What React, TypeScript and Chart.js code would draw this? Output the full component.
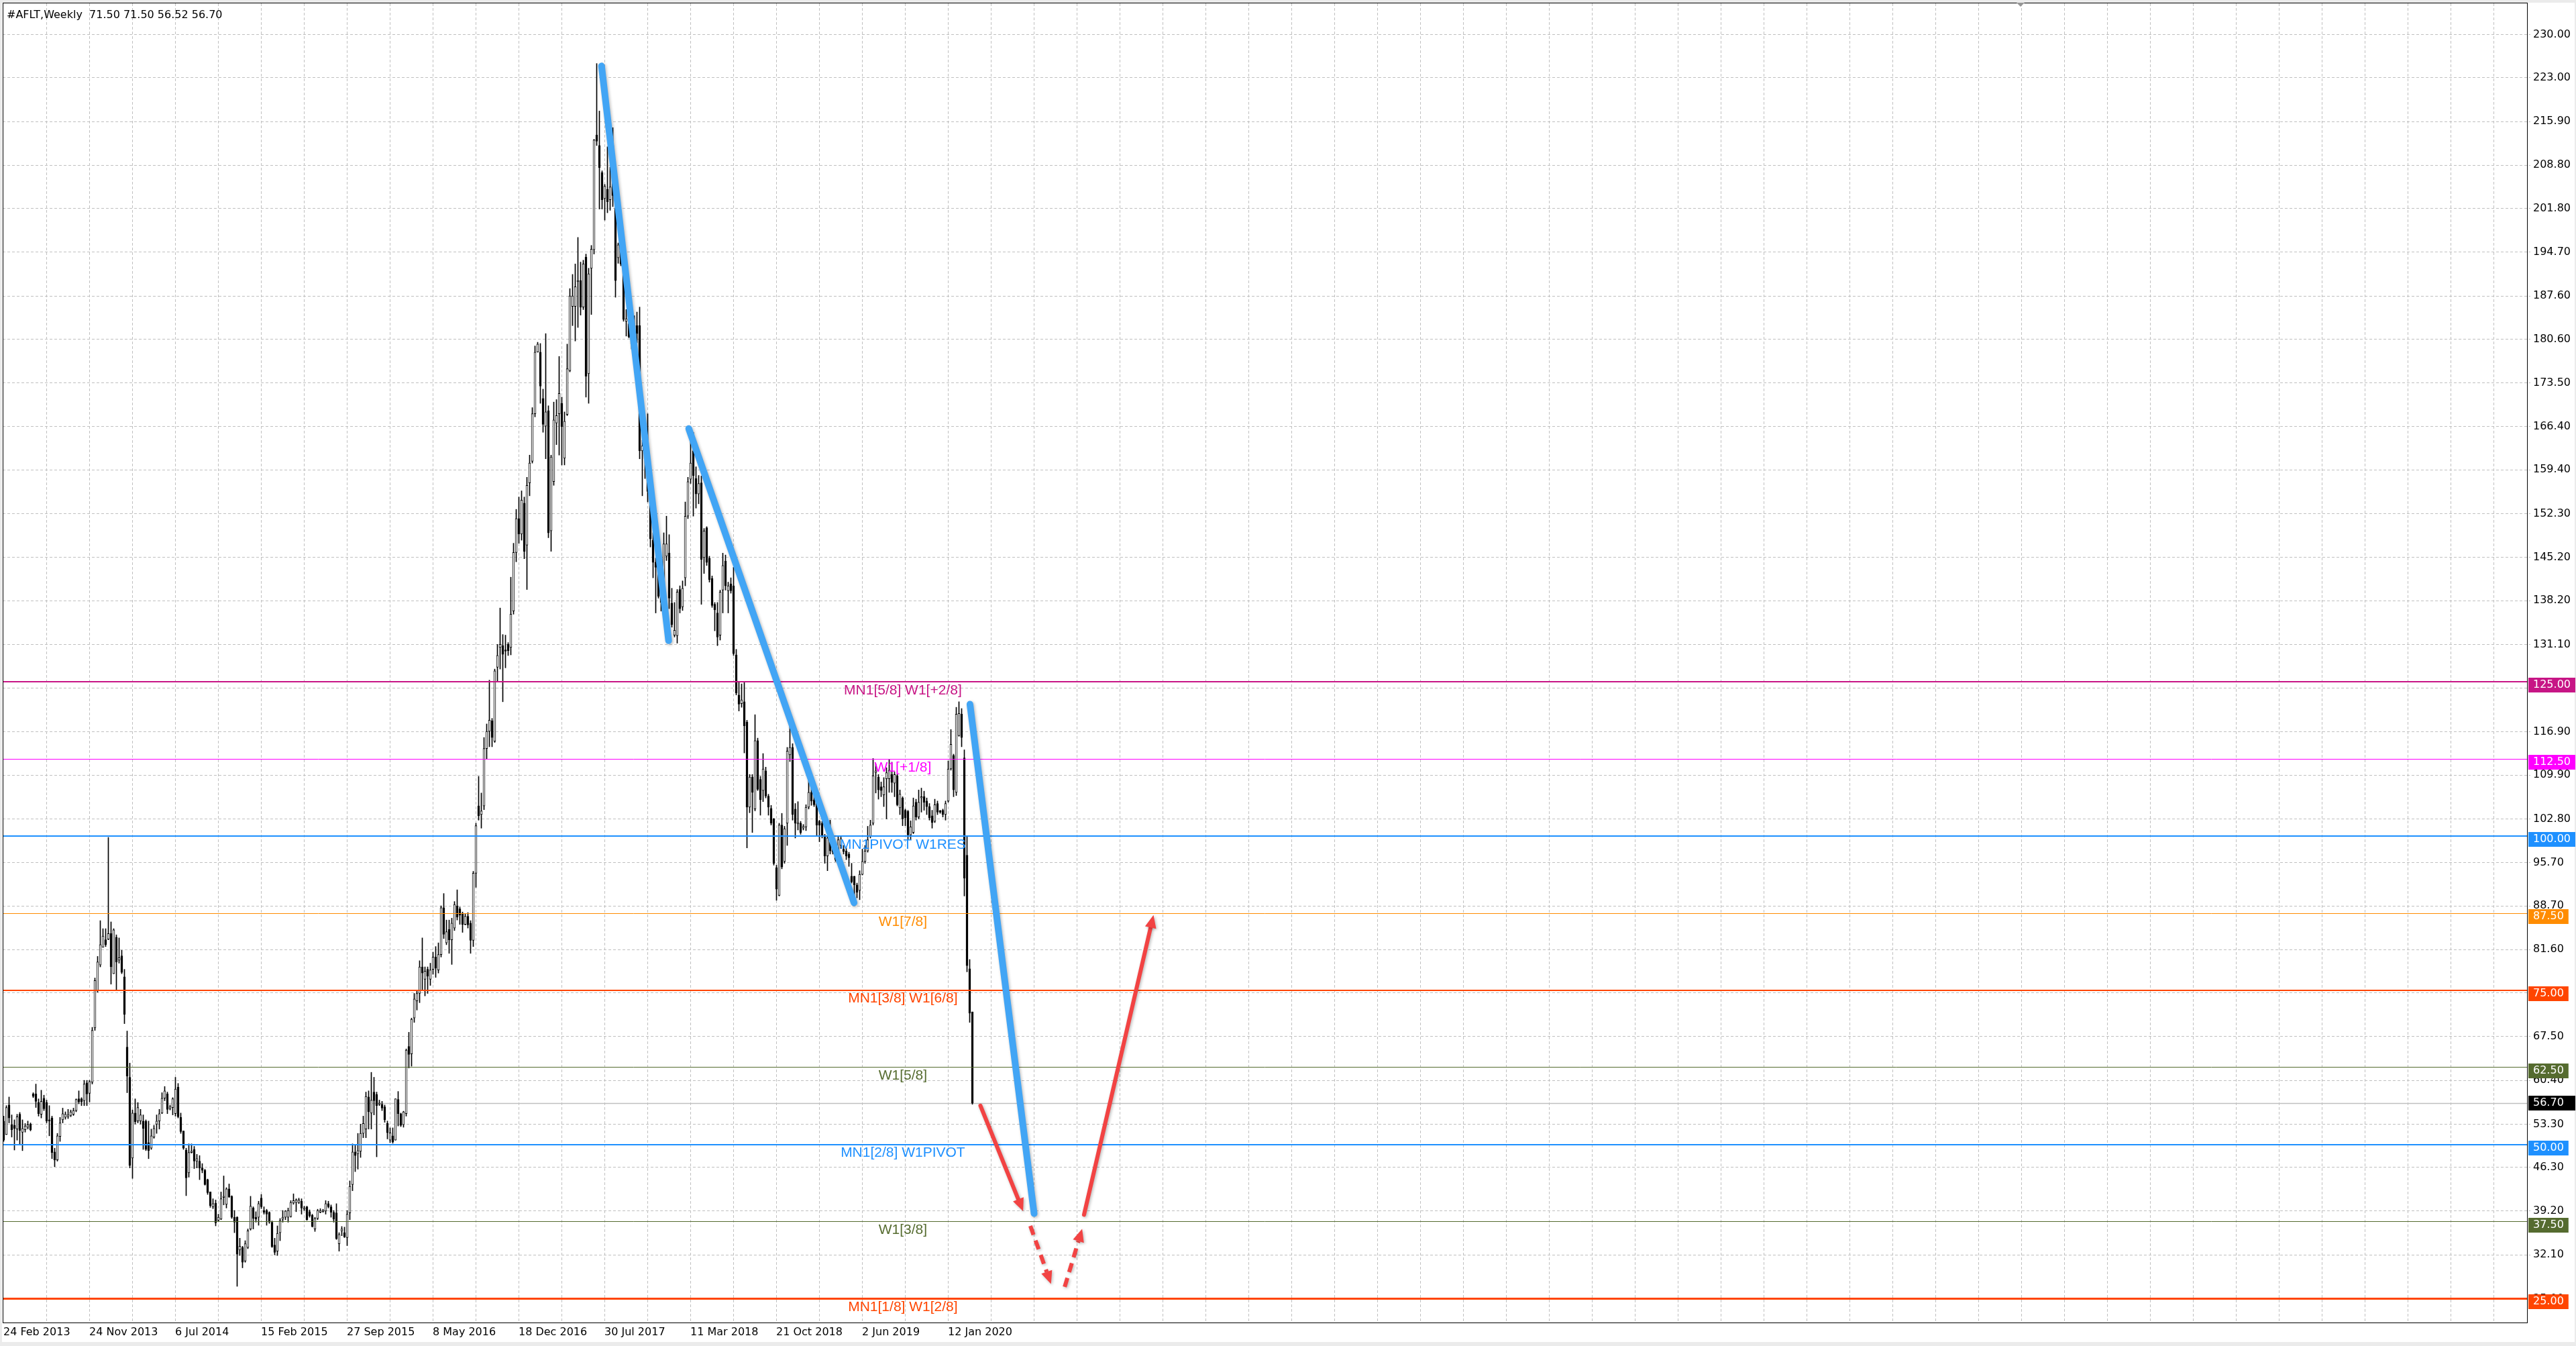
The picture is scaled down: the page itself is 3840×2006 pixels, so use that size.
import React, { useEffect, useRef } from 'react';
import { Chart, registerables } from 'chart.js';

Chart.register(...registerables);

// ---------------- DATA ----------------
const symbolName = '#AFLT';
const timeframeName = 'Weekly';

const openPrices = [
  53.8, 51.6, 56.4, 53.2, 53.1, 52.5, 54.9, 52.0, 52.4, 52.8,
  53.3, 58.2, 58.2, 56.8, 54.9, 57.5, 56.8, 54.0, 54.3, 48.8,
  47.5, 51.3, 54.0, 54.4, 54.5, 54.7, 54.9, 55.5, 57.4, 57.4,
  57.1, 60.0, 58.3, 60.1, 68.9, 74.9, 79.1, 82.0, 83.2, 83.3,
  84.2, 77.7, 83.6, 79.9, 80.6, 77.2, 65.8, 60.9, 47.8, 55.1,
  53.8, 53.8, 53.8, 53.8, 50.3, 49.4, 51.2, 53.3, 53.8, 55.1,
  57.5, 58.2, 55.8, 56.0, 55.0, 59.3, 54.4, 52.2, 49.1, 45.4,
  48.7, 49.2, 47.3, 47.3, 46.2, 45.8, 44.3, 42.3, 39.9, 40.5,
  37.7, 37.9, 41.4, 40.3, 42.8, 41.6, 38.2, 38.2, 32.9, 33.3,
  31.1, 33.3, 36.3, 39.7, 38.2, 38.2, 41.3, 39.3, 39.3, 39.0,
  37.4, 33.7, 32.7, 35.7, 37.9, 38.2, 38.2, 38.3, 40.5, 40.6,
  40.6, 40.8, 39.5, 39.9, 39.1, 38.5, 36.3, 38.0, 39.0, 39.1,
  39.2, 40.4, 39.9, 39.0, 38.9, 33.9, 36.0, 35.7, 34.9, 38.9,
  43.5, 48.8, 48.5, 48.9, 51.8, 52.5, 57.7, 55.1, 58.5, 58.1,
  56.5, 56.5, 56.1, 53.4, 50.7, 51.4, 50.7, 57.3, 55.0, 53.2,
  55.0, 65.9, 64.7, 70.5, 73.3, 74.5, 78.8, 76.8, 78.4, 76.8,
  78.4, 80.4, 78.3, 80.8, 88.4, 82.7, 84.9, 83.2, 85.1, 88.7,
  88.2, 87.4, 85.7, 87.0, 85.9, 83.1, 94.0, 104.9, 103.5, 104.9,
  114.2, 117.0, 118.7, 115.4, 127.4, 130.6, 130.9, 130.1, 131.1, 130.6,
  136.5, 146.0, 151.5, 149.0, 154.0, 147.2, 157.3, 160.8, 168.5, 178.5,
  178.5, 171.0, 166.5, 169.0, 149.5, 157.5, 167.0, 168.5, 170.2, 161.3,
  168.4, 175.5, 185.9, 185.9, 189.9, 190.1, 185.8, 193.9, 175.0, 192.1,
  195.1, 213.7, 212.0, 207.6, 203.4, 204.9, 203.2, 212.0, 201.8, 193.8,
  198.4, 192.8, 183.5, 183.1, 182.5, 182.5, 182.8, 182.8, 162.5, 164.5,
  161.2, 155.9, 148.0, 144.4, 144.2, 139.9, 138.9, 145.4, 145.9, 137.8,
  132.6, 132.5, 140.0, 137.2, 141.9, 151.9, 157.9, 162.5, 158.0, 155.5,
  157.3, 145.2, 150.0, 145.1, 141.8, 137.6, 136.2, 132.6, 139.9, 144.6,
  139.8, 140.9, 140.6, 129.4, 122.9, 121.5, 121.8, 118.5, 104.7, 109.6,
  104.4, 115.5, 109.2, 107.4, 110.6, 106.5, 104.5, 102.8, 94.9, 90.4,
  101.8, 95.9, 102.1, 113.2, 114.4, 104.4, 102.0, 102.1, 101.3, 101.5,
  104.7, 107.1, 105.9, 105.6, 102.4, 102.1, 100.0, 96.8, 99.7, 98.1,
  96.8, 96.8, 98.5, 97.9, 97.6, 97.1, 93.5, 93.5, 92.1, 91.2,
  93.8, 95.9, 97.6, 100.0, 102.1, 110.3, 109.6, 108.0, 106.7, 109.3,
  109.3, 110.0, 108.6, 109.8, 104.6, 106.2, 104.2, 104.0, 100.2, 100.6,
  105.5, 103.1, 106.2, 106.4, 105.7, 104.8, 103.3, 102.4, 105.3, 104.0,
  104.2, 103.5, 105.7, 110.9, 113.1, 107.1, 116.3, 119.8, 112.7, 96.9,
  78.5, 71.5,
];

const highPrices = [
  54.6, 56.3, 57.7, 54.8, 54.0, 54.9, 55.2, 54.0, 53.4, 53.8,
  53.5, 58.4, 59.8, 57.4, 58.8, 58.0, 57.2, 56.3, 54.6, 49.4,
  51.8, 54.4, 55.9, 55.3, 55.7, 55.6, 55.9, 57.4, 58.7, 57.6,
  60.4, 60.4, 60.4, 69.0, 77.0, 80.5, 86.3, 85.0, 85.0, 99.8,
  86.1, 85.0, 84.0, 83.5, 81.5, 78.4, 68.4, 63.2, 55.6, 57.4,
  56.8, 55.7, 54.8, 54.0, 53.8, 52.5, 53.1, 54.8, 55.7, 58.4,
  59.4, 58.5, 56.4, 57.6, 60.9, 59.9, 55.1, 52.2, 49.4, 50.1,
  50.1, 49.7, 48.4, 48.2, 46.9, 46.0, 44.4, 42.3, 41.2, 41.0,
  38.7, 42.3, 44.9, 43.0, 43.6, 41.7, 39.3, 38.3, 34.8, 33.5,
  34.4, 36.3, 41.6, 39.9, 39.1, 40.8, 41.9, 39.9, 39.5, 39.1,
  37.6, 34.8, 36.8, 38.0, 39.3, 39.3, 39.7, 40.9, 42.0, 41.2,
  41.3, 41.2, 40.0, 40.0, 39.4, 38.7, 38.2, 39.5, 39.6, 39.5,
  40.9, 40.8, 40.2, 39.3, 40.4, 35.7, 36.7, 36.6, 39.3, 44.1,
  50.1, 49.9, 51.8, 53.3, 54.6, 58.5, 58.7, 61.7, 60.9, 58.5,
  57.2, 57.0, 56.4, 53.8, 52.7, 52.7, 57.4, 58.6, 55.1, 55.4,
  65.5, 68.2, 70.5, 74.5, 75.0, 79.8, 83.5, 78.8, 78.8, 79.4,
  81.2, 82.1, 82.7, 88.7, 90.7, 86.4, 86.4, 86.7, 89.4, 91.3,
  88.5, 87.7, 87.4, 87.6, 86.3, 94.3, 102.1, 109.7, 107.0, 116.0,
  118.2, 125.3, 119.1, 127.1, 131.1, 137.0, 132.7, 132.6, 131.4, 142.0,
  147.5, 153.0, 155.0, 156.0, 155.0, 158.2, 161.8, 169.5, 179.5, 180.1,
  179.9, 172.5, 181.5, 169.8, 161.8, 170.4, 170.8, 177.8, 171.2, 168.8,
  179.8, 188.8, 191.1, 192.8, 197.1, 193.1, 193.4, 194.4, 192.1, 195.8,
  213.0, 225.3, 217.6, 207.9, 205.7, 211.8, 208.5, 214.9, 202.4, 196.2,
  199.5, 193.1, 185.4, 185.8, 183.5, 184.4, 185.0, 185.8, 164.2, 167.0,
  168.5, 157.2, 149.2, 145.1, 145.9, 141.0, 149.2, 151.9, 148.9, 140.2,
  137.9, 140.0, 140.6, 141.4, 154.2, 158.2, 166.2, 165.5, 159.9, 158.5,
  158.4, 149.9, 150.2, 145.4, 142.2, 137.9, 137.9, 139.9, 145.9, 145.6,
  141.2, 141.9, 143.6, 130.3, 125.0, 124.7, 124.9, 118.8, 110.0, 110.0,
  119.7, 115.9, 109.7, 113.4, 111.2, 106.8, 105.0, 102.9, 95.3, 102.1,
  103.7, 101.6, 114.4, 118.2, 115.0, 105.3, 105.6, 102.4, 101.9, 105.1,
  109.7, 108.5, 106.5, 107.1, 102.6, 102.4, 100.3, 100.0, 102.6, 98.8,
  98.0, 99.9, 100.0, 98.5, 98.1, 97.4, 95.6, 93.5, 92.4, 94.4,
  97.9, 98.5, 101.6, 102.6, 112.6, 111.7, 110.0, 108.8, 109.5, 111.1,
  112.5, 112.0, 110.4, 110.0, 107.5, 106.4, 104.4, 104.2, 102.5, 106.2,
  106.0, 107.5, 107.8, 107.3, 106.2, 105.3, 104.2, 106.0, 105.7, 104.2,
  104.4, 105.7, 112.2, 117.3, 113.3, 120.9, 121.8, 120.7, 114.0, 99.9,
  80.0, 71.5,
];

const lowPrices = [
  50.5, 51.6, 53.5, 51.2, 49.1, 50.7, 49.9, 49.0, 52.0, 52.5,
  52.2, 57.6, 56.0, 54.6, 54.3, 55.5, 53.5, 51.4, 47.7, 46.4,
  47.3, 50.5, 53.5, 54.1, 54.2, 54.5, 54.7, 55.3, 56.6, 56.3,
  56.3, 56.3, 56.9, 59.8, 68.5, 74.7, 78.8, 82.0, 82.1, 83.2,
  76.0, 77.7, 75.1, 79.4, 77.7, 69.6, 58.4, 46.2, 44.5, 53.3,
  53.5, 53.3, 49.2, 49.0, 47.7, 49.2, 51.0, 51.8, 52.5, 55.0,
  57.1, 55.0, 55.6, 54.8, 54.6, 54.3, 51.8, 49.2, 41.7, 44.7,
  48.6, 46.1, 46.2, 44.3, 45.4, 43.4, 41.9, 39.8, 39.6, 36.8,
  37.6, 37.8, 40.2, 39.7, 41.4, 38.0, 35.7, 27.0, 32.0, 30.0,
  30.9, 33.1, 36.1, 36.3, 37.4, 36.9, 39.6, 38.7, 36.9, 37.2,
  33.3, 32.1, 32.0, 34.4, 37.4, 37.8, 37.4, 38.2, 40.3, 39.1,
  40.4, 38.7, 39.3, 37.7, 38.2, 36.6, 35.9, 37.8, 38.9, 39.0,
  38.7, 39.7, 38.2, 37.4, 34.6, 32.7, 35.2, 34.9, 33.6, 37.8,
  42.5, 45.6, 46.0, 47.9, 51.1, 51.1, 52.5, 52.5, 54.8, 48.0,
  56.3, 55.5, 53.6, 50.9, 50.3, 50.2, 50.7, 53.0, 52.9, 52.8,
  54.6, 62.4, 62.7, 69.8, 71.8, 73.0, 75.1, 74.1, 74.5, 75.8,
  77.6, 77.1, 77.8, 80.4, 83.4, 82.4, 81.0, 79.2, 84.7, 86.4,
  85.7, 84.4, 85.6, 85.1, 81.0, 82.1, 91.7, 102.6, 101.3, 104.3,
  112.5, 114.5, 114.5, 115.2, 125.1, 127.1, 121.8, 127.3, 129.3, 129.4,
  136.0, 144.5, 147.5, 148.0, 145.0, 140.0, 155.2, 160.5, 168.0, 178.5,
  170.2, 165.5, 161.2, 148.4, 146.2, 156.9, 163.5, 161.8, 160.2, 160.2,
  168.2, 175.3, 182.8, 180.3, 182.5, 184.5, 185.4, 171.2, 170.2, 184.6,
  194.4, 212.0, 201.7, 201.7, 199.9, 201.1, 201.5, 202.1, 187.4, 192.9,
  192.5, 183.5, 181.1, 180.8, 179.0, 181.1, 180.0, 161.2, 155.2, 158.0,
  154.2, 146.9, 141.9, 136.2, 138.6, 136.5, 137.2, 144.7, 136.9, 133.9,
  132.3, 131.3, 136.2, 136.6, 140.6, 151.5, 157.2, 151.9, 153.2, 153.9,
  137.6, 142.6, 143.9, 141.2, 137.1, 133.3, 130.9, 131.8, 136.2, 139.9,
  136.2, 139.4, 129.3, 122.9, 120.3, 120.9, 113.5, 98.1, 103.8, 100.6,
  104.1, 107.4, 103.4, 105.6, 106.2, 103.4, 101.8, 95.3, 89.6, 90.3,
  94.7, 95.6, 98.5, 112.1, 102.6, 99.7, 101.0, 100.3, 101.0, 100.9,
  104.4, 105.0, 104.8, 100.0, 99.1, 99.7, 95.6, 94.4, 97.1, 97.1,
  95.9, 96.5, 98.0, 97.1, 96.2, 95.1, 92.4, 90.3, 90.0, 89.7,
  93.7, 95.6, 97.4, 99.7, 101.8, 107.0, 106.0, 106.4, 104.8, 102.8,
  107.1, 107.1, 106.4, 104.9, 103.5, 101.7, 101.7, 99.5, 99.5, 100.4,
  102.6, 102.8, 103.9, 104.2, 103.5, 102.6, 101.3, 102.2, 103.5, 103.7,
  103.1, 102.6, 105.5, 110.7, 106.4, 106.6, 116.2, 114.5, 90.3, 78.0,
  69.8, 56.52,
];

const closePrices = [
  50.7, 56.0, 54.3, 52.4, 52.6, 54.5, 52.3, 52.6, 53.0, 53.2,
  52.4, 57.8, 57.0, 55.0, 57.0, 55.8, 53.8, 53.8, 48.7, 47.5,
  51.4, 53.5, 55.0, 54.9, 54.8, 55.3, 55.5, 57.3, 56.9, 56.9,
  59.8, 58.2, 60.2, 68.5, 76.6, 79.6, 82.4, 83.8, 82.4, 84.2,
  78.8, 84.8, 79.6, 80.3, 77.9, 71.1, 61.1, 46.6, 55.1, 53.7,
  56.0, 54.8, 52.6, 49.2, 49.0, 51.4, 52.6, 53.8, 55.0, 57.5,
  58.7, 55.7, 56.1, 57.4, 59.0, 54.5, 52.1, 49.4, 44.6, 48.7,
  48.9, 47.3, 47.7, 46.2, 45.8, 43.5, 42.2, 40.1, 40.4, 37.3,
  38.2, 41.2, 41.6, 42.8, 41.5, 38.2, 37.4, 32.2, 33.5, 30.9,
  33.9, 36.0, 40.0, 38.0, 37.9, 40.4, 39.9, 39.0, 38.7, 37.4,
  33.4, 32.5, 35.6, 37.7, 38.2, 39.2, 39.3, 40.6, 40.9, 41.0,
  41.0, 39.7, 39.7, 37.8, 38.4, 36.7, 38.0, 39.3, 39.3, 39.3,
  40.4, 39.9, 39.0, 37.9, 34.7, 35.4, 36.3, 35.0, 38.7, 43.2,
  48.8, 48.2, 49.0, 51.8, 53.4, 57.8, 55.3, 57.2, 57.1, 56.3,
  56.7, 55.9, 54.0, 51.9, 51.9, 50.4, 57.4, 55.0, 53.1, 55.3,
  65.3, 64.6, 70.3, 73.6, 74.5, 78.8, 77.8, 78.1, 77.3, 78.3,
  80.4, 78.6, 80.8, 88.4, 84.1, 84.5, 83.2, 85.9, 88.9, 86.9,
  87.2, 85.7, 87.0, 85.6, 83.1, 94.0, 101.7, 103.3, 104.1, 114.2,
  117.0, 118.8, 116.0, 126.8, 129.3, 131.1, 129.5, 130.0, 130.1, 136.0,
  146.0, 151.5, 149.0, 154.5, 146.2, 156.9, 160.5, 168.5, 178.5, 179.8,
  173.0, 166.8, 168.8, 149.2, 161.5, 167.5, 168.2, 171.8, 166.4, 167.3,
  175.8, 187.6, 187.6, 189.1, 190.1, 185.8, 192.8, 174.6, 191.2, 195.2,
  212.9, 212.7, 208.4, 203.2, 205.4, 202.9, 205.3, 203.9, 190.1, 195.9,
  192.8, 183.8, 183.9, 181.0, 179.8, 182.8, 181.5, 162.5, 163.3, 161.2,
  155.9, 148.2, 144.4, 143.6, 138.9, 137.9, 147.4, 147.4, 138.6, 134.3,
  133.4, 139.6, 136.9, 140.2, 151.9, 157.5, 160.5, 158.5, 155.5, 157.2,
  144.9, 149.5, 144.4, 141.6, 137.4, 136.7, 132.3, 139.6, 143.9, 140.6,
  140.6, 139.8, 129.6, 123.2, 121.4, 122.1, 117.9, 104.7, 109.6, 107.1,
  115.5, 107.6, 105.9, 110.9, 106.5, 104.7, 102.1, 95.6, 91.4, 101.8,
  95.0, 101.2, 113.8, 114.4, 103.5, 102.1, 102.2, 100.6, 101.6, 104.7,
  107.1, 105.7, 105.1, 101.8, 101.8, 100.0, 96.8, 99.7, 97.6, 97.4,
  96.2, 99.4, 99.6, 97.5, 96.8, 96.5, 92.6, 92.1, 90.9, 93.8,
  95.9, 97.6, 99.4, 101.8, 109.8, 110.6, 107.5, 107.4, 108.0, 110.3,
  110.7, 108.7, 110.0, 105.1, 106.8, 102.8, 103.0, 100.2, 101.5, 104.9,
  103.1, 105.5, 106.4, 105.5, 104.8, 103.0, 102.2, 105.1, 103.9, 103.9,
  103.5, 105.3, 110.9, 114.9, 107.5, 119.8, 119.9, 116.0, 93.2, 79.0,
  71.3, 56.7,
];

const yTickValues = [
  25.0, 32.1, 39.2, 46.3, 53.3, 60.4, 67.5, 74.6, 81.6, 88.7,
  95.7, 102.8, 109.9, 116.9, 124.0, 131.1, 138.2, 145.2, 152.3, 159.4,
  166.4, 173.5, 180.6, 187.6, 194.7, 201.8, 208.8, 215.9, 223.0, 230.0,
];

const dateLabels = [
  '24 Feb 2013', '24 Nov 2013', '6 Jul 2014', '15 Feb 2015', '27 Sep 2015', '8 May 2016',
  '18 Dec 2016', '30 Jul 2017', '11 Mar 2018', '21 Oct 2018', '2 Jun 2019', '12 Jan 2020',
];
const dateLabelBars = [0, 32, 64, 96, 128, 160, 192, 224, 256, 288, 320, 352];
const gridBarStep = 16;

const levelValues = [125, 112.5, 100, 87.5, 75, 62.5, 50, 37.5, 25];
const levelNames = [
  'MN1[5/8] W1[+2/8]', 'W1[+1/8]', 'MN1PIVOT W1RES', 'W1[7/8]', 'MN1[3/8] W1[6/8]',
  'W1[5/8]', 'MN1[2/8] W1PIVOT', 'W1[3/8]', 'MN1[1/8] W1[2/8]',
];
const levelColors = [
  '#C71585', '#FF00FF', '#1E90FF', '#FF8C00', '#FF4500',
  '#556B2F', '#1E90FF', '#556B2F', '#FF4500',
];
const levelWidths = [2, 1, 2, 1, 2, 1, 2, 1, 3];
const levelLabelBar = 335.1;
const currentPrice = 56.7;

const trendStartBar = [222.8, 255.3, 360.1];
const trendStartPrice = [224.9, 166.1, 121.4];
const trendEndBar = [247.8, 316.9, 384.0];
const trendEndPrice = [131.7, 89.2, 38.8];

const arrowStartBar = [364.0, 382.6, 395.4, 402.6];
const arrowStartPrice = [56.3, 36.8, 26.9, 38.6];
const arrowEndBar = [379.9, 390.3, 401.9, 428.5];
const arrowEndPrice = [39.2, 27.4, 36.3, 87.2];
const arrowDashed = [false, true, true, false];

const shiftMarkerBar = 751.6;

// ---------------- LAYOUT CONSTANTS ----------------
const W = 3840;
const H = 2006;
const X_MIN = -0.375;
const X_MAX = 940.375;
const Y_MIN = 21.13;
const Y_MAX = 235.06;
const AXIS_FONT = '16px "DejaVu Sans"';
const LEVEL_FONT = '21px "Liberation Sans"';

function drawArrow(ctx: CanvasRenderingContext2D, x1: number, y1: number, x2: number, y2: number, dashed: boolean) {
  const ang = Math.atan2(y2 - y1, x2 - x1);
  const headLen = 19;
  const headHalf = 8.5;
  const bx = x2 - headLen * Math.cos(ang);
  const by = y2 - headLen * Math.sin(ang);
  ctx.setLineDash(dashed ? [14, 9] : []);
  ctx.lineCap = dashed ? 'butt' : 'round';
  ctx.beginPath();
  ctx.moveTo(x1, y1);
  ctx.lineTo(bx, by);
  ctx.stroke();
  ctx.setLineDash([]);
  ctx.beginPath();
  ctx.moveTo(x2, y2);
  ctx.lineTo(bx + headHalf * Math.sin(ang), by - headHalf * Math.cos(ang));
  ctx.lineTo(bx - headHalf * Math.sin(ang), by + headHalf * Math.cos(ang));
  ctx.closePath();
  ctx.fill();
}

const mt4Plugin = {
  id: 'mt4Overlay',
  beforeDraw(chart: any) {
    const { ctx, chartArea: a, scales } = chart;
    const xs = scales.x;
    const ys = scales.y;
    ctx.save();
    ctx.fillStyle = '#ffffff';
    ctx.fillRect(0, 0, W, H);
    // window border
    ctx.fillStyle = 'rgb(235,235,235)';
    ctx.fillRect(0, 0, W, 4);
    ctx.fillRect(0, 0, 3, H);
    ctx.fillRect(0, 2000, W, H - 2000);
    ctx.fillRect(W - 2, 0, 2, H);
    // grid
    ctx.strokeStyle = 'rgb(192,192,192)';
    ctx.lineWidth = 1;
    ctx.setLineDash([4, 3]);
    ctx.beginPath();
    for (let b = gridBarStep; b < X_MAX; b += gridBarStep) {
      const x = Math.floor(xs.getPixelForValue(b)) + 0.5;
      if (x >= a.right - 1) break;
      ctx.moveTo(x, a.top);
      ctx.lineTo(x, a.bottom);
    }
    for (const v of yTickValues) {
      const y = Math.floor(ys.getPixelForValue(v)) + 0.5;
      ctx.moveTo(a.left, y);
      ctx.lineTo(a.right + 5, y);
    }
    ctx.stroke();
    ctx.setLineDash([]);
    // current price line (background)
    const cy = Math.floor(ys.getPixelForValue(currentPrice)) + 0.5;
    ctx.strokeStyle = 'rgb(192,192,192)';
    ctx.lineWidth = 1.5;
    ctx.beginPath();
    ctx.moveTo(a.left, cy);
    ctx.lineTo(a.right, cy);
    ctx.stroke();
    ctx.restore();
  },
  afterDatasetsDraw(chart: any) {
    const { ctx, chartArea: a, scales } = chart;
    const xs = scales.x;
    const ys = scales.y;
    ctx.save();
    // levels
    levelValues.forEach((v, k) => {
      const w = levelWidths[k];
      let y = ys.getPixelForValue(v);
      y = w % 2 === 1 ? Math.floor(y) + 0.5 : Math.round(y);
      ctx.strokeStyle = levelColors[k];
      ctx.lineWidth = w;
      ctx.beginPath();
      ctx.moveTo(a.left, y);
      ctx.lineTo(a.right, y);
      ctx.stroke();
    });
    ctx.font = LEVEL_FONT;
    ctx.textAlign = 'center';
    ctx.textBaseline = 'alphabetic';
    const lx = xs.getPixelForValue(levelLabelBar);
    levelValues.forEach((v, k) => {
      const y = ys.getPixelForValue(v);
      ctx.fillStyle = levelColors[k];
      ctx.fillText(levelNames[k], lx, y + 18.5);
    });
    // trend lines
    ctx.shadowColor = 'rgba(0,0,0,0.28)';
    ctx.shadowBlur = 4;
    ctx.shadowOffsetX = 1.5;
    ctx.shadowOffsetY = 1.5;
    ctx.strokeStyle = 'rgb(66,165,245)';
    ctx.lineWidth = 10;
    ctx.lineCap = 'round';
    trendStartBar.forEach((b, k) => {
      ctx.beginPath();
      ctx.moveTo(xs.getPixelForValue(b), ys.getPixelForValue(trendStartPrice[k]));
      ctx.lineTo(xs.getPixelForValue(trendEndBar[k]), ys.getPixelForValue(trendEndPrice[k]));
      ctx.stroke();
    });
    // arrows
    ctx.strokeStyle = 'rgb(242,67,67)';
    ctx.fillStyle = 'rgb(242,67,67)';
    ctx.lineWidth = 6;
    arrowStartBar.forEach((b, k) => {
      drawArrow(
        ctx,
        xs.getPixelForValue(b), ys.getPixelForValue(arrowStartPrice[k]),
        xs.getPixelForValue(arrowEndBar[k]), ys.getPixelForValue(arrowEndPrice[k]),
        arrowDashed[k],
      );
    });
    ctx.restore();
  },
  afterDraw(chart: any) {
    const { ctx, chartArea: a, scales } = chart;
    const xs = scales.x;
    const ys = scales.y;
    ctx.save();
    // frame
    ctx.strokeStyle = '#000000';
    ctx.lineWidth = 1;
    ctx.strokeRect(a.left + 0.5, a.top - 0.5, a.right - a.left, a.bottom - a.top + 1);
    // level price boxes on axis
    ctx.font = AXIS_FONT;
    ctx.textAlign = 'left';
    ctx.textBaseline = 'middle';
    levelValues.forEach((v, k) => {
      const y = Math.round(ys.getPixelForValue(v));
      const txt = v.toFixed(2);
      const tw = ctx.measureText(txt).width;
      ctx.fillStyle = levelColors[k];
      ctx.fillRect(a.right + 2, y - 6, tw + 14, 22);
      ctx.fillStyle = '#ffffff';
      ctx.fillText(txt, a.right + 9, y + 5);
    });
    const cy = Math.round(ys.getPixelForValue(currentPrice));
    ctx.fillStyle = '#000000';
    ctx.fillRect(a.right + 2, cy - 11, 70, 22);
    ctx.fillStyle = '#ffffff';
    ctx.fillText(currentPrice.toFixed(2), a.right + 9, cy);
    // title
    const n = closePrices.length - 1;
    ctx.fillStyle = '#000000';
    ctx.textBaseline = 'alphabetic';
    ctx.fillText(
      `${symbolName},${timeframeName}  ${openPrices[n].toFixed(2)} ${highPrices[n].toFixed(2)} ${lowPrices[n].toFixed(2)} ${closePrices[n].toFixed(2)}`,
      10, 27,
    );
    // x labels
    ctx.textBaseline = 'top';
    dateLabels.forEach((t, k) => {
      ctx.fillText(t, xs.getPixelForValue(dateLabelBars[k]) - 0.5, a.bottom + 7);
    });
    // chart shift marker
    const sx = Math.round(xs.getPixelForValue(shiftMarkerBar));
    ctx.fillStyle = 'rgb(150,150,150)';
    ctx.beginPath();
    ctx.moveTo(sx - 6, a.top - 1);
    ctx.lineTo(sx + 6, a.top - 1);
    ctx.lineTo(sx, a.top + 5);
    ctx.closePath();
    ctx.fill();
    ctx.restore();
  },
};

export default function App() {
  const canvasRef = useRef<HTMLCanvasElement | null>(null);

  useEffect(() => {
    document.body.style.margin = '0';
    document.body.style.overflow = 'hidden';
    const canvas = canvasRef.current;
    if (!canvas) return;

    const bodies = closePrices.map((c, i) => ({ x: i, y: [openPrices[i], c] }));
    const wicks = highPrices.map((h, i) => ({ x: i, y: [lowPrices[i], h] }));
    const bodyColors = closePrices.map((c, i) => (c >= openPrices[i] ? '#ffffff' : '#000000'));

    const chart = new Chart(canvas, {
      type: 'bar',
      data: {
        datasets: [
          {
            label: 'body',
            data: bodies as any,
            backgroundColor: bodyColors,
            borderColor: '#000000',
            borderWidth: 1,
            borderSkipped: false,
            barThickness: 3,
            minBarLength: 2,
            grouped: false,
            order: 1,
          } as any,
          {
            label: 'wick',
            data: wicks as any,
            backgroundColor: '#000000',
            borderWidth: 0,
            barThickness: 1,
            grouped: false,
            order: 2,
          } as any,
        ],
      },
      options: {
        responsive: false,
        maintainAspectRatio: false,
        devicePixelRatio: 1,
        animation: false,
        events: [],
        layout: { padding: { left: 4, top: 5, right: 0, bottom: 0 } },
        plugins: {
          legend: { display: false },
          tooltip: { enabled: false },
          title: { display: false },
        },
        scales: {
          x: {
            type: 'linear',
            min: X_MIN,
            max: X_MAX,
            offset: false,
            ticks: { display: false },
            grid: { display: false, drawTicks: false },
            border: { display: false },
            afterFit: (s: any) => {
              s.height = 35;
            },
          },
          y: {
            type: 'linear',
            position: 'right',
            min: Y_MIN,
            max: Y_MAX,
            beginAtZero: false,
            offset: false,
            grid: { display: false, drawTicks: false },
            border: { display: false },
            ticks: {
              autoSkip: false,
              padding: 9,
              color: '#000000',
              font: { family: 'DejaVu Sans', size: 16 },
              callback: (v: any) => Number(v).toFixed(2),
            },
            afterBuildTicks: (s: any) => {
              s.ticks = yTickValues.map((v) => ({ value: v }));
            },
            afterFit: (s: any) => {
              s.width = 73;
              s.paddingTop = 0;
              s.paddingBottom = 0;
            },
          },
        },
      } as any,
      plugins: [mt4Plugin],
    });

    return () => chart.destroy();
  }, []);

  return (
    <div style={{ position: 'fixed', left: 0, top: 0, width: W, height: H }}>
      <canvas ref={canvasRef} width={W} height={H} style={{ display: 'block', width: W, height: H }} />
    </div>
  );
}
